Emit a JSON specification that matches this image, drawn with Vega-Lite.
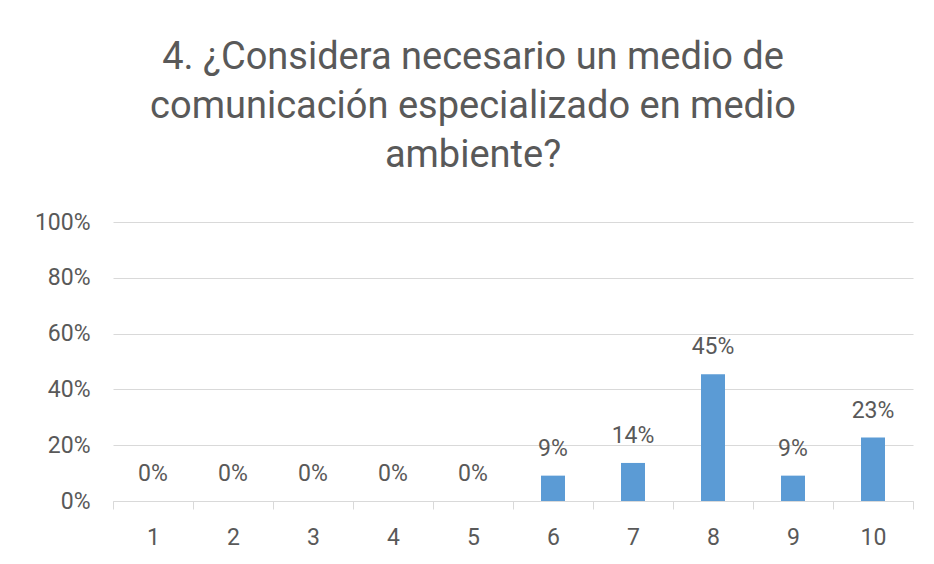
{
  "$schema": "https://vega.github.io/schema/vega-lite/v6.json",
  "autosize": "none",
  "width": 800,
  "height": 279,
  "padding": {"left": 113, "top": 222, "right": 21, "bottom": 63},
  "background": "white",
  "title": {
    "text": ["4. ¿Considera necesario un medio de", "comunicación especializado en medio", "ambiente?"],
    "font": "Roboto",
    "fontSize": 38,
    "fontWeight": "normal",
    "color": "#595959",
    "lineHeight": 49,
    "anchor": "middle",
    "dx": -40,
    "offset": 36
  },
  "data": {
    "values": [
      {"cat": "1", "value": 0},
      {"cat": "2", "value": 0},
      {"cat": "3", "value": 0},
      {"cat": "4", "value": 0},
      {"cat": "5", "value": 0},
      {"cat": "6", "value": 0.0909},
      {"cat": "7", "value": 0.1364},
      {"cat": "8", "value": 0.4545},
      {"cat": "9", "value": 0.0909},
      {"cat": "10", "value": 0.2273}
    ]
  },
  "encoding": {
    "x": {
      "field": "cat",
      "type": "ordinal",
      "sort": null,
      "scale": {"paddingInner": 0, "paddingOuter": 0},
      "axis": {
        "title": null,
        "labelAngle": 0,
        "labelFont": "Roboto",
        "labelFontSize": 23,
        "labelColor": "#595959",
        "labelPadding": 17,
        "domainColor": "#d9d9d9",
        "tickColor": "#d9d9d9",
        "tickSize": 8,
        "tickBand": "extent",
        "grid": false
      }
    },
    "y": {
      "field": "value",
      "type": "quantitative",
      "scale": {"domain": [0, 1], "nice": false},
      "axis": {
        "title": null,
        "format": ".0%",
        "values": [0, 0.2, 0.4, 0.6, 0.8, 1],
        "labelFont": "Roboto",
        "labelFontSize": 23,
        "labelColor": "#595959",
        "labelPadding": 23,
        "ticks": false,
        "domain": false,
        "gridColor": "#d9d9d9",
        "gridWidth": 1
      }
    }
  },
  "layer": [
    {"mark": {"type": "bar", "color": "#5B9BD5", "width": {"band": 0.3}}},
    {
      "mark": {"type": "text", "font": "Roboto", "fontSize": 23, "color": "#595959", "baseline": "alphabetic", "dy": -20},
      "encoding": {"text": {"field": "value", "type": "quantitative", "format": ".0%"}}
    }
  ],
  "config": {"view": {"stroke": null}}
}
